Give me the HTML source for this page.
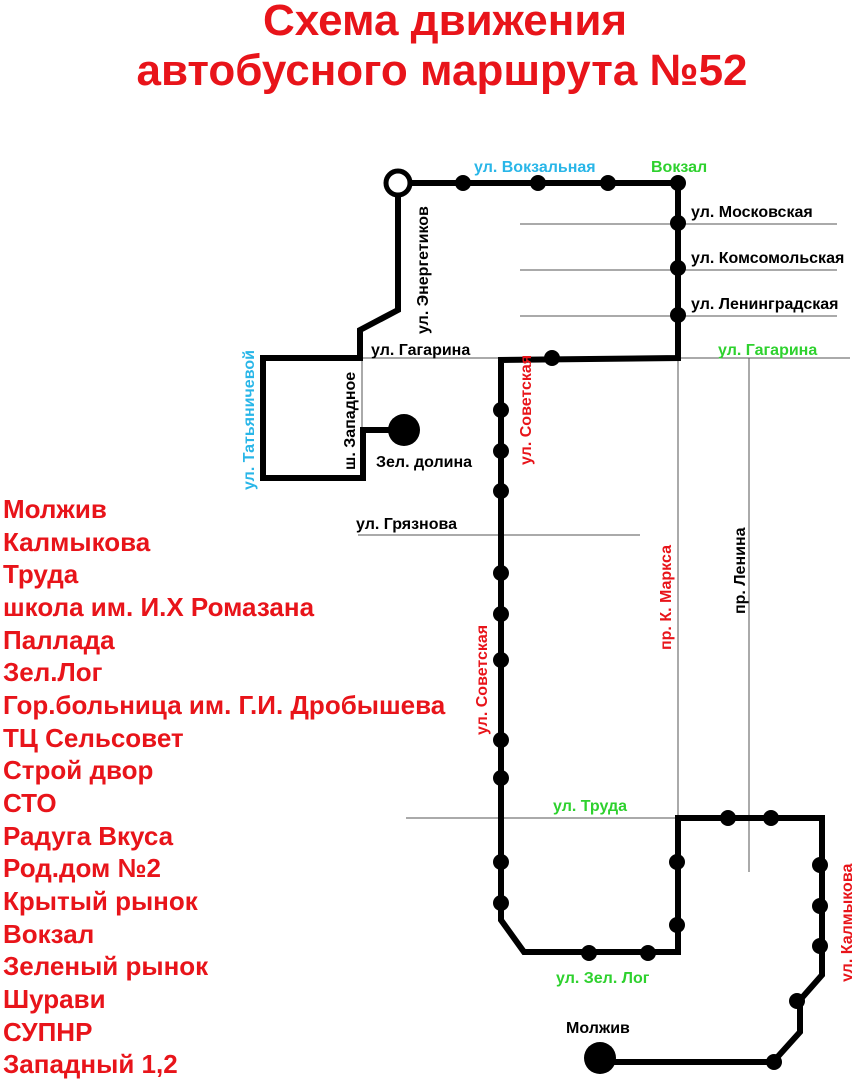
<!DOCTYPE html>
<html><head><meta charset="utf-8"><style>
body{margin:0;background:#fff;width:852px;height:1080px;overflow:hidden}
svg{display:block}
text{font-family:"Liberation Sans",sans-serif;font-weight:bold}
</style></head><body>
<svg width="852" height="1080" viewBox="0 0 852 1080">
<text x="445" y="35" text-anchor="middle" font-size="44" fill="#e8141a">Схема движения</text>
<text x="442" y="85" text-anchor="middle" font-size="44" fill="#e8141a">автобусного маршрута №52</text>

<g stroke="#555" stroke-width="1" fill="none">
<line x1="520" y1="224" x2="837" y2="224"/>
<line x1="520" y1="270" x2="837" y2="270"/>
<line x1="520" y1="316" x2="837" y2="316"/>
<line x1="360" y1="358" x2="850" y2="358"/>
<line x1="362" y1="358" x2="362" y2="478"/>
<line x1="678" y1="358" x2="678" y2="818"/>
<line x1="749" y1="358" x2="749" y2="872"/>
<line x1="358" y1="535" x2="640" y2="535"/>
<line x1="406" y1="818" x2="678" y2="818"/>
</g>

<g stroke="#000" stroke-width="6" fill="none" stroke-linejoin="miter">
<polyline points="410,183 678,183 678,358 501,360 501,920 524,952 678,952 678,818 822,818 822,975 800,1000 800,1032 773,1062 600,1062"/>
<polyline points="398,196 398,310 360,330 360,358 263,358 263,478 363,478 363,430 404,430"/>
</g>
<circle cx="398" cy="183" r="12" fill="#fff" stroke="#000" stroke-width="5"/>
<g fill="#000">
<circle cx="463" cy="183" r="8"/><circle cx="538" cy="183" r="8"/><circle cx="608" cy="183" r="8"/><circle cx="678" cy="183" r="8"/>
<circle cx="678" cy="223" r="8"/><circle cx="678" cy="268" r="8"/><circle cx="678" cy="315" r="8"/>
<circle cx="552" cy="358" r="8"/>
<circle cx="501" cy="410" r="8"/><circle cx="501" cy="451" r="8"/><circle cx="501" cy="491" r="8"/><circle cx="501" cy="573" r="8"/><circle cx="501" cy="614" r="8"/><circle cx="501" cy="660" r="8"/><circle cx="501" cy="740" r="8"/><circle cx="501" cy="778" r="8"/><circle cx="501" cy="862" r="8"/><circle cx="501" cy="903" r="8"/>
<circle cx="589" cy="953" r="8"/><circle cx="648" cy="953" r="8"/>
<circle cx="677" cy="862" r="8"/><circle cx="677" cy="925" r="8"/>
<circle cx="728" cy="818" r="8"/><circle cx="771" cy="818" r="8"/>
<circle cx="820" cy="865" r="8"/><circle cx="820" cy="906" r="8"/><circle cx="820" cy="946" r="8"/>
<circle cx="797" cy="1001" r="8"/><circle cx="774" cy="1062" r="8"/>
<circle cx="404" cy="430" r="16"/><circle cx="600" cy="1058" r="16"/>
</g>

<g font-size="16">
<text x="474" y="172" fill="#29b6e8">ул. Вокзальная</text>
<text x="651" y="172" fill="#2ed12e">Вокзал</text>
<text x="691" y="217" fill="#000">ул. Московская</text>
<text x="691" y="263" fill="#000">ул. Комсомольская</text>
<text x="691" y="309" fill="#000">ул. Ленинградская</text>
<text x="371" y="355" fill="#000">ул. Гагарина</text>
<text x="718" y="355" fill="#2ed12e">ул. Гагарина</text>
<text x="376" y="467" fill="#000">Зел. долина</text>
<text x="356" y="529" fill="#000">ул. Грязнова</text>
<text x="553" y="811" fill="#2ed12e">ул. Труда</text>
<text x="556" y="983" fill="#2ed12e">ул. Зел. Лог</text>
<text x="566" y="1033" fill="#000">Молжив</text>
<text transform="translate(428,334) rotate(-90)" fill="#000">ул. Энергетиков</text>
<text transform="translate(355,470) rotate(-90)" fill="#000">ш. Западное</text>
<text transform="translate(254,490) rotate(-90)" fill="#29b6e8">ул. Татьяничевой</text>
<text transform="translate(531,465) rotate(-90)" fill="#e8141a">ул. Советская</text>
<text transform="translate(487,735) rotate(-90)" fill="#e8141a">ул. Советская</text>
<text transform="translate(671,650) rotate(-90)" fill="#e8141a">пр. К. Маркса</text>
<text transform="translate(745,614) rotate(-90)" fill="#000">пр. Ленина</text>
<text transform="translate(852,982) rotate(-90)" fill="#e8141a">ул. Калмыкова</text>
</g>

<g font-size="26" fill="#e8141a">
<text x="3" y="518">Молжив</text>
<text x="3" y="551">Калмыкова</text>
<text x="3" y="583">Труда</text>
<text x="3" y="616">школа им. И.Х Ромазана</text>
<text x="3" y="649">Паллада</text>
<text x="3" y="681">Зел.Лог</text>
<text x="3" y="714">Гор.больница им. Г.И. Дробышева</text>
<text x="3" y="747">ТЦ Сельсовет</text>
<text x="3" y="779">Строй двор</text>
<text x="3" y="812">СТО</text>
<text x="3" y="845">Радуга Вкуса</text>
<text x="3" y="877">Род.дом №2</text>
<text x="3" y="910">Крытый рынок</text>
<text x="3" y="943">Вокзал</text>
<text x="3" y="975">Зеленый рынок</text>
<text x="3" y="1008">Шурави</text>
<text x="3" y="1041">СУПНР</text>
<text x="3" y="1073">Западный 1,2</text>
</g>
</svg>
</body></html>
